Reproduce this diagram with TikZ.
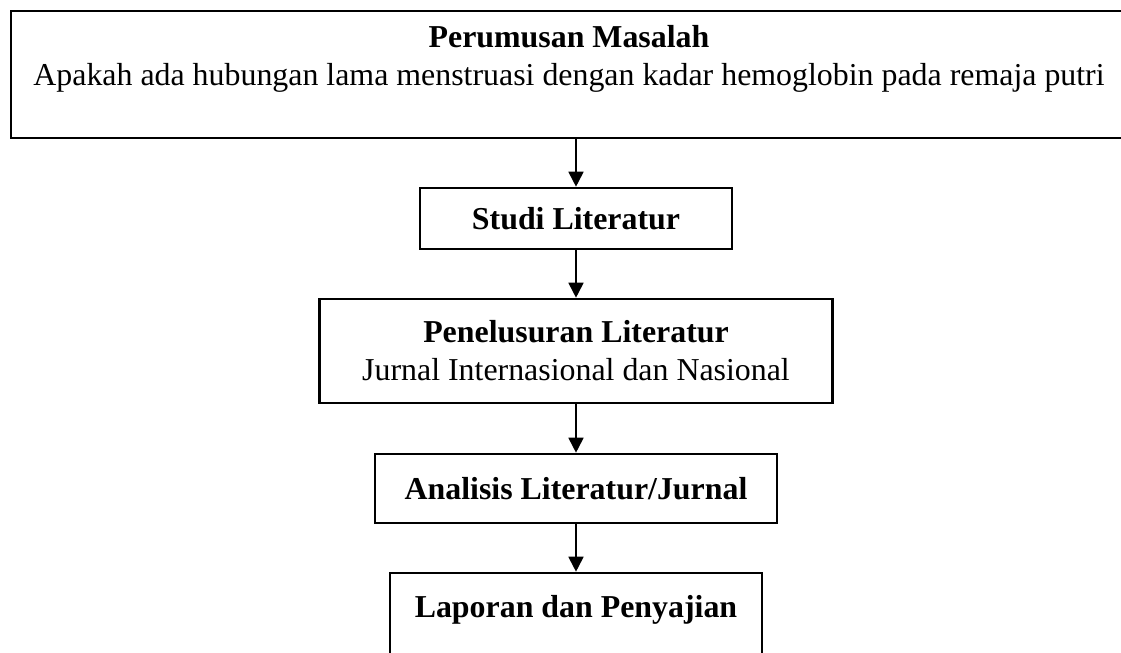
\documentclass[tikz,border=0pt]{standalone}
\usepackage{fontspec}
\setmainfont{Liberation Serif}
\usetikzlibrary{arrows.meta}

\begin{document}
\begin{tikzpicture}[x=1bp,y=-1bp,
  box/.style={draw,line width=2.6bp,align=center,inner sep=0pt,
    font=\fontsize{32}{38}\selectfont},
  arr/.style={-{Triangle[width=15bp,length=15bp]},line width=1.8bp}
]
  \useasboundingbox (0,0) rectangle (1121,653);
  \clip (0,0) rectangle (1121,653);
  \node[box,minimum width=1116bp,minimum height=127bp] (masalah) at (569,74.5)
    {\textbf{Perumusan Masalah}\\Apakah ada hubungan lama menstruasi dengan kadar hemoglobin pada remaja putri\\ \mbox{}};
  \node[box,minimum width=312bp,minimum height=61bp] (studi) at (576,218.5)
    {\textbf{Studi Literatur}};
  \node[box,minimum width=513bp,minimum height=104bp] (telusur) at (576,351)
    {\textbf{Penelusuran Literatur}\\Jurnal Internasional dan Nasional};
  \node[box,minimum width=402bp,minimum height=69bp] (analisis) at (576,488.5)
    {\textbf{Analisis Literatur/Jurnal}};
  \node[box,minimum width=372bp,minimum height=105bp] (laporan) at (576,625.5)
    {\textbf{Laporan dan Penyajian}\\ \mbox{}};
  \draw[arr] (masalah.south -| studi.north) -- (studi.north);
  \draw[arr] (studi) -- (telusur);
  \draw[arr] (telusur) -- (analisis);
  \draw[arr] (analisis) -- (laporan);
\end{tikzpicture}
\end{document}
